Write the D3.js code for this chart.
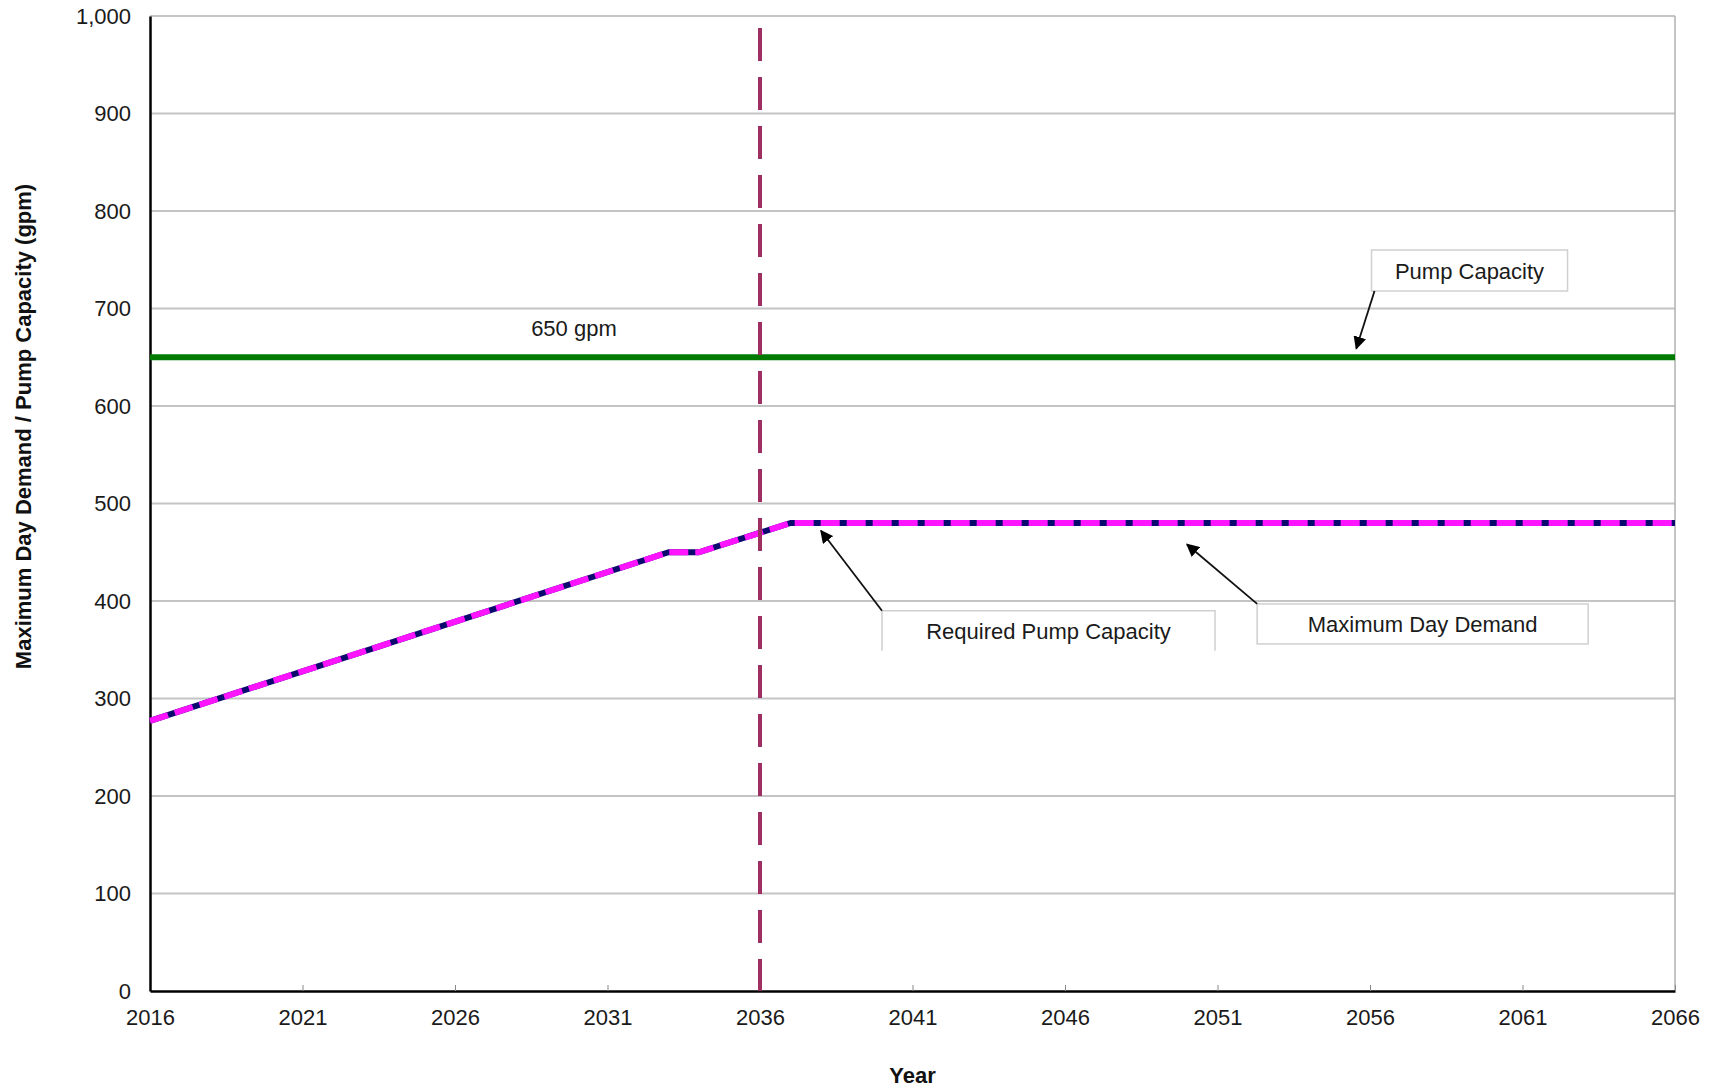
<!DOCTYPE html>
<html>
<head>
<meta charset="utf-8">
<script src="https://cdn.jsdelivr.net/npm/d3@7"></script>
<style>
  html, body { margin: 0; padding: 0; background: #fff; }
  svg { display: block; font-family: "Liberation Sans", Arial, sans-serif; }
</style>
</head>
<body>
<svg id="chart" width="1712" height="1090"></svg>
<script>
// ---- data ----
const demandYears = [2016, 2033, 2034, 2037, 2066];
const maxDayDemand = [277, 450, 450, 480, 480];
const requiredPumpCapacity = [277, 450, 450, 480, 480];
const pumpYears = [2016, 2066];
const pumpCapacity = [650, 650];
const markerYear = 2036;
const xTicks = [2016, 2021, 2026, 2031, 2036, 2041, 2046, 2051, 2056, 2061, 2066];
const yTicks = [0, 100, 200, 300, 400, 500, 600, 700, 800, 900, 1000];
const xTitle = "Year";
const yTitle = "Maximum Day Demand / Pump Capacity (gpm)";
const capacityLabel = "650 gpm";
const callouts = [
  { text: "Pump Capacity", year: 2056.05, value: 760, w: 196, h: 41, ax: 2055.55, av: 659 },
  { text: "Required Pump Capacity", year: 2040, value: 390, w: 333, h: 40, ax: 2038, av: 472 },
  { text: "Maximum Day Demand", year: 2052.3, value: 397, w: 331, h: 40, ax: 2050, av: 458 }
];

// ---- layout ----
const svg = d3.select("#chart");
const L = 150, R = 1675, T = 16, B = 991;
const FS = 22;
const x = d3.scaleLinear().domain([2016, 2066]).range([L, R]);
const y = d3.scaleLinear().domain([0, 1000]).range([B, T]);

const defs = svg.append("defs");
defs.append("marker").attr("id", "arrow").attr("viewBox", "0 0 10 10")
  .attr("refX", 9).attr("refY", 5).attr("markerWidth", 13).attr("markerHeight", 13)
  .attr("markerUnits", "userSpaceOnUse").attr("orient", "auto")
  .append("path").attr("d", "M0,0 L10,5 L0,10 z").attr("fill", "#000");

// gridlines
svg.append("g").selectAll("line").data(yTicks.filter(d => d > 0)).join("line")
  .attr("x1", L).attr("x2", R).attr("y1", d => y(d)).attr("y2", d => y(d))
  .attr("stroke", "#c4c4c4").attr("stroke-width", 2);
// right border
svg.append("line").attr("x1", R).attr("x2", R).attr("y1", T).attr("y2", B)
  .attr("stroke", "#b0b0b0").attr("stroke-width", 1.5);

// axes
const xAxis = d3.axisBottom(x).tickValues(xTicks).tickFormat(d3.format("d")).tickSizeInner(-6).tickSizeOuter(0).tickPadding(18);
const gx = svg.append("g").attr("transform", `translate(0,${B})`).call(xAxis);
gx.select(".domain").attr("stroke", "#000").attr("stroke-width", 2.5);
gx.selectAll(".tick line").attr("stroke", "#888").attr("stroke-width", 1);
gx.selectAll(".tick text").attr("font-size", FS).attr("fill", "#1a1a1a")
  .attr("font-family", "Liberation Sans, Arial, sans-serif");

const yAxis = d3.axisLeft(y).tickValues(yTicks).tickFormat(d3.format(",")).tickSizeInner(0).tickSizeOuter(0).tickPadding(19);
const gy = svg.append("g").attr("transform", `translate(${L},0)`).call(yAxis);
gy.select(".domain").attr("stroke", "#000").attr("stroke-width", 2.5);
gy.selectAll(".tick text").attr("font-size", FS).attr("fill", "#1a1a1a")
  .attr("font-family", "Liberation Sans, Arial, sans-serif");

// pump capacity line
const pumpLine = d3.line().x((d, i) => x(pumpYears[i])).y(d => y(d));
svg.append("path").datum(pumpCapacity).attr("d", pumpLine)
  .attr("fill", "none").attr("stroke", "#007a00").attr("stroke-width", 6);

// demand lines
const demandLine = d3.line().x((d, i) => x(demandYears[i])).y(d => y(d));
svg.append("path").datum(maxDayDemand).attr("d", demandLine)
  .attr("fill", "none").attr("stroke", "#0a0a6e").attr("stroke-width", 6).attr("stroke-linejoin", "round");
svg.append("path").datum(requiredPumpCapacity).attr("d", demandLine)
  .attr("fill", "none").attr("stroke", "#ff14ff").attr("stroke-width", 6)
  .attr("stroke-dasharray", "19,7").attr("stroke-linejoin", "round");

// vertical marker line
svg.append("line").attr("x1", x(markerYear)).attr("x2", x(markerYear))
  .attr("y1", 28).attr("y2", B)
  .attr("stroke", "#9e2f63").attr("stroke-width", 4)
  .attr("stroke-dasharray", "33,16");

// label 650 gpm
svg.append("text").attr("x", x(2029.9)).attr("y", y(650) - 21)
  .attr("text-anchor", "middle").attr("font-size", FS).attr("fill", "#1a1a1a")
  .text(capacityLabel);

// callouts
callouts.forEach((c, i) => {
  const bx = x(c.year), by = y(c.value);
  const g = svg.append("g");
  if (i === 1) {
    g.append("path").attr("d", `M${bx},${by + c.h} V${by} H${bx + c.w} V${by + c.h}`)
      .attr("fill", "#fff").attr("stroke", "#d0d0d0").attr("stroke-width", 1.5);
  } else {
    g.append("rect").attr("x", bx).attr("y", by).attr("width", c.w).attr("height", c.h)
      .attr("fill", "#fff").attr("stroke", "#d0d0d0").attr("stroke-width", 1.5);
  }
  g.append("text").attr("x", bx + c.w / 2).attr("y", by + c.h / 2 + 8)
    .attr("text-anchor", "middle").attr("font-size", FS).attr("fill", "#1a1a1a").text(c.text);
  const sx = i === 0 ? bx + 3 : bx;
  const sy = i === 0 ? by + c.h : by;
  g.append("line").attr("x1", sx).attr("y1", sy).attr("x2", x(c.ax)).attr("y2", y(c.av))
    .attr("stroke", "#111").attr("stroke-width", 1.8).attr("marker-end", "url(#arrow)");
});

// axis titles
svg.append("text").attr("x", (L + R) / 2).attr("y", 1083)
  .attr("text-anchor", "middle").attr("font-size", FS).attr("font-weight", "bold")
  .attr("fill", "#111").text(xTitle);
svg.append("text").attr("transform", `translate(31,${(T + B) / 2 - 77}) rotate(-90)`)
  .attr("text-anchor", "middle").attr("font-size", FS).attr("font-weight", "bold")
  .attr("fill", "#111").text(yTitle);
</script>
</body>
</html>
